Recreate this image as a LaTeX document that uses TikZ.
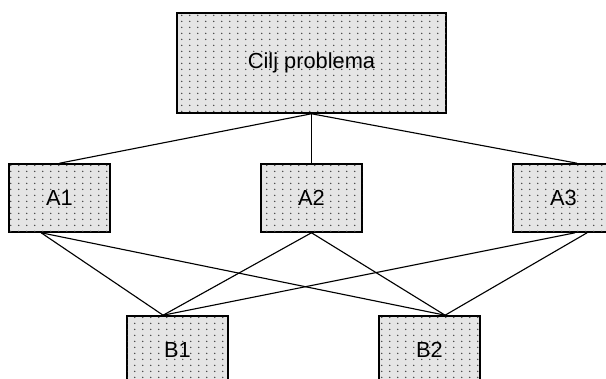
\documentclass[tikz,border=0pt]{standalone}
\usepackage{fontspec}
\setmainfont{Liberation Sans}
\usepackage{tikz}
\usetikzlibrary{patterns, positioning, calc}

\pgfdeclarepatternformonly{boxdots}{\pgfpointorigin}{\pgfpoint{5.5pt}{4.3pt}}%
  {\pgfpoint{5.5pt}{4.3pt}}%
  {\pgfpathcircle{\pgfpoint{2.75pt}{2.15pt}}{0.6pt}\pgfusepath{fill}}

\tikzset{
  goalbox/.style={
    draw, line width=1.1pt, align=center, fill=black!10,
    postaction={pattern=boxdots, pattern color=black!75},
    font=\fontsize{15.5}{18}\selectfont, inner sep=0pt
  },
  levelbox/.style={
    goalbox, minimum width=2.525cm, minimum height=1.7cm
  },
  linkline/.style={
    line width=0.8pt, color=black
  },
}

\begin{document}
\begin{tikzpicture}
  \useasboundingbox (0,0) rectangle (15.15,9.475);
  \clip (0,0) rectangle (15.15,9.475);

  % Goal
  \node[goalbox, minimum width=6.725cm, minimum height=2.5cm]
    (goal) at (7.7875,7.9) {Cilj problema};

  % Criteria
  \node[levelbox] (a1) at (1.4875,4.525) {A1};
  \node[levelbox] (a2) at (7.7875,4.525) {A2};
  \node[levelbox] (a3) at (14.0875,4.525) {A3};

  % Alternatives
  \node[levelbox] (b1) at (4.4375,0.725) {B1};
  \node[levelbox] (b2) at (10.7375,0.725) {B2};

  % Goal to criteria
  \draw[linkline] (goal.south) -- (a1.north);
  \draw[linkline] (goal.south) -- (a2.north);
  \draw[linkline] (goal.south) -- ([xshift=0.34cm]a3.north);

  % Criteria to alternatives
  \draw[linkline] ([xshift=-0.46cm]a1.south) -- ([xshift=-0.36cm]b1.north);
  \draw[linkline] ([xshift=-0.46cm]a1.south) -- ([xshift=0.39cm]b2.north);
  \draw[linkline] (a2.south) -- ([xshift=-0.36cm]b1.north);
  \draw[linkline] (a2.south) -- ([xshift=0.39cm]b2.north);
  \draw[linkline] ([xshift=0.29cm]a3.south) -- ([xshift=-0.36cm]b1.north);
  \draw[linkline] ([xshift=0.59cm]a3.south) -- ([xshift=0.39cm]b2.north);
\end{tikzpicture}
\end{document}
